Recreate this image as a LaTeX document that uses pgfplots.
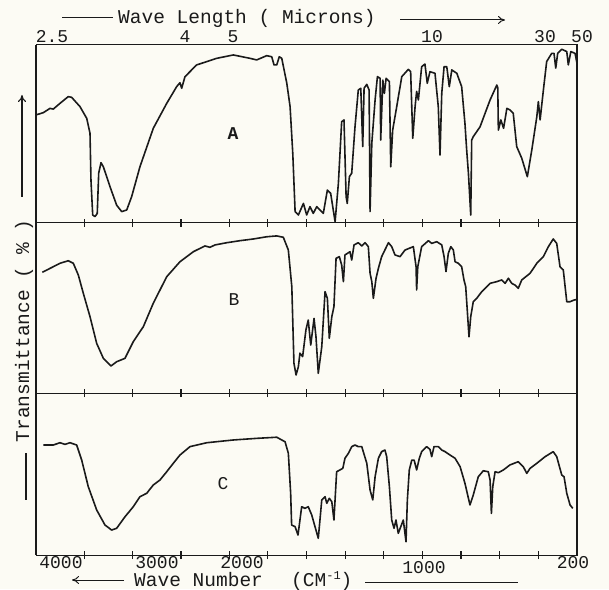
\documentclass[border=0pt]{standalone}
\usepackage{pgfplots}
\pgfplotsset{compat=1.18}
\usepackage{pgfplotstable}
\usepackage{fontspec}
\setmainfont{Liberation Mono}
\usetikzlibrary{arrows.meta}
\definecolor{paper}{HTML}{FCFBF4}
\definecolor{ink}{HTML}{1A1A1A}

% wave number (cm^-1) against transmittance, each panel
\pgfplotstableread{
nu t
4000 60.7
3924 62
3855 64.4
3821 64
3752 67.2
3666 71
3631 70.6
3545 65.4
3475 58.8
3441 50.4
3431 24
3413 4.5
3389 3.6
3366 5.4
3351 28
3327 33.9
3303 31.6
3234 20.4
3165 10
3113 6.4
3061 7.3
3010 14.8
2924 31.6
2786 53.2
2647 67.2
2544 76.6
2510 78.8
2492 75.7
2458 82.2
2337 88.8
2130 92.5
1979 94.4
1892 92.5
1858 91.6
1806 94
1780 93.4
1768 88.8
1754 88.8
1741 93.4
1728 92.5
1702 78.5
1685 65.4
1671 39
1659 6.4
1642 4.5
1616 11
1599 4.5
1582 9.2
1565 5.4
1547 9.2
1530 7.3
1513 5.4
1492 18.5
1475 16.7
1452 0.7
1435 22.3
1418 56.9
1406 57.9
1395 14.8
1389 11
1378 26
1366 28
1349 54
1332 74.7
1319 75.7
1309 42.9
1302 75.7
1288 77.9
1276 74.7
1271 6.4
1262 44.8
1245 69.1
1233 82.2
1219 81.3
1216 46.6
1205 80.3
1197 72.8
1188 81.3
1171 79.4
1164 31.6
1154 52.2
1133 65.4
1107 82.2
1073 86.3
1061 85
1050 47.6
1038 65.4
1030 73.9
1021 69.1
1004 87.8
987 89.3
975 78.5
961 85
935 84.1
918 65.4
909 38.2
900 72.8
888 87.8
874 87.8
861 76.6
848 86
822 84.1
797 76.6
780 56
771 41
762 28
750 4.5
745 46.6
737 48.5
702 54
650 69.1
615 77.5
610 76
607 52.2
594 57.9
580 53.2
563 64.4
547 63.5
530 61.6
512 42.9
486 36.4
457 26
434 41
408 59.7
400 68.2
391 57.9
374 74.7
357 90.7
331 95.3
319 95.3
310 87
300 95.3
279 97.6
253 96.3
245 88.8
232 96.3
210 95.3
200 89.7
}\dataA

\pgfplotstableread{
nu t
3935 71
3855 73.3
3752 76.3
3666 77.8
3614 76.3
3562 69.4
3510 58.6
3441 44.9
3372 29.2
3303 20.4
3224 15.9
3165 18.4
3079 20.4
2993 30.2
2889 39
2786 52.8
2647 68.4
2510 77.2
2372 83.1
2251 86.5
2199 85.7
2147 87.1
2026 88.4
1944 89.6
1875 90.6
1806 91.9
1754 92.4
1720 91.6
1694 84.1
1676 62.5
1665 17.5
1654 10.6
1642 15.5
1634 23.4
1620 21.4
1603 37.1
1591 42.9
1578 28.2
1561 43.9
1551 33.1
1539 11.6
1521 27.2
1504 59.6
1492 55.7
1482 32.2
1469 44.9
1458 50.8
1447 79.2
1430 80.2
1418 75.3
1409 65.5
1401 81.2
1375 83.1
1366 78.2
1354 87.1
1332 88.4
1314 86.5
1297 88.4
1280 86.1
1271 70.4
1262 65.5
1254 55.7
1240 67.5
1228 73.3
1211 80.2
1176 88.4
1159 86.1
1142 81.2
1116 80.2
1090 84.1
1047 86.1
1033 74.3
1030 60.6
1024 74.3
1004 86.1
969 89.6
952 88
926 89
900 87.1
888 80.2
878 71.4
866 82.2
853 86.1
840 84.1
831 77.2
814 76.3
797 74.3
785 66.5
776 62.5
768 48.8
759 33.1
750 44.9
737 53.7
719 55.7
693 59.6
650 64.5
615 65.5
590 66.5
572 64.5
555 67.5
538 64.5
521 63.5
504 61.6
486 66.5
443 70.4
408 76.3
374 80.2
348 86.1
323 90.6
305 88
288 74.3
271 72.4
253 53.7
236 53.7
215 54.7
200 55
}\dataB

\pgfplotstableread{
nu t
3924 67.9
3821 67.9
3752 69.3
3700 68.3
3648 69.3
3579 67.9
3527 58.6
3459 42.2
3372 27.8
3286 18.5
3217 15.4
3165 16.5
3079 23.6
2993 29.8
2924 36
2854 38.1
2786 43.2
2717 46.3
2647 51.4
2579 56.6
2510 61.7
2406 66.9
2233 69.3
1979 71
1858 72
1754 72.7
1711 69.9
1694 62.8
1682 38.1
1677 18.5
1659 17.5
1644 12.3
1625 29.8
1608 28.8
1591 29.8
1573 24.7
1556 17.5
1539 10.3
1521 34
1504 36
1495 31.9
1482 35
1469 32.9
1458 21.6
1444 51.4
1427 52.5
1412 53.5
1401 59.7
1383 62.8
1366 66.9
1349 67.9
1332 66.9
1314 66.9
1288 56.6
1271 40.1
1257 34
1245 48.3
1228 59.7
1211 63.8
1194 64.8
1185 60.7
1171 42.2
1159 21.6
1147 16.5
1137 21.6
1125 13.4
1112 17.5
1099 21.6
1085 8.2
1078 34
1068 52.5
1055 58.6
1043 58.6
1030 52.5
1016 59.7
1004 63.8
978 66.9
961 65.2
952 60.7
940 66.9
918 66.9
900 64.8
883 63.8
857 61.7
831 59.7
805 54.5
780 44.3
754 30.9
737 37
711 48.3
685 52
659 51.4
650 46.3
643 25.7
636 42.2
624 51.4
607 50.8
581 52.5
547 55.6
504 57.6
478 54.5
460 50.4
443 53.5
408 56.6
365 60.7
323 63.8
305 60.7
279 49.4
267 48.3
253 38.1
236 30.9
222 28.8
}\dataC

\pgfplotsset{
  irpanel/.style={
    scale only axis, width=541pt, anchor=south west,
    xmin=0, xmax=5600, ymin=0, ymax=100,
    ytick=\empty,
    % 3500 ... 2000 every 500, then 1800 ... 400 every 200 (grating change at 2000)
    xtick={500,1000,1500,2000,2400,2800,3200,3600,4000,4400,4800,5200},
    xticklabels={},
    xtick pos=bottom, tick align=center, major tick length=8pt,
    tick style={ink, line width=1.2pt},
    axis line style={ink, line width=1pt},
  },
  trace/.style={ink, line width=1.6pt, no marks, line join=round},
}
\newcommand{\lab}{\fontsize{19.5}{20}\selectfont}
\newcommand{\num}{\fontsize{18}{18}\selectfont}

\begin{document}
\begin{tikzpicture}[x=1pt,y=1pt]
\fill[paper] (0,0) rectangle (609,589);
\useasboundingbox (0,0) rectangle (609,589);

\begin{axis}[irpanel, height=178pt, at={(36pt,366pt)}]
  \addplot[trace] table[x expr={4000-\thisrow{nu}+max(0,2000-\thisrow{nu})}, y=t] {\dataA};
\end{axis}
\begin{axis}[irpanel, height=170pt, at={(36pt,196pt)}]
  \addplot[trace] table[x expr={4000-\thisrow{nu}+max(0,2000-\thisrow{nu})}, y=t] {\dataB};
\end{axis}
\begin{axis}[irpanel, height=162pt, at={(36pt,34pt)}]
  \addplot[trace] table[x expr={4000-\thisrow{nu}+max(0,2000-\thisrow{nu})}, y=t] {\dataC};
\end{axis}

% heavy side rules of the chart paper
\draw[ink, line width=2.2pt] (36,34) -- (36,544);
\draw[ink, line width=2pt] (577,34) -- (577,544);

% panel letters
\node[ink, font=\fontsize{18}{18}\selectfont\bfseries] at (233,455) {A};
\node[ink, font=\fontsize{18}{18}\selectfont] at (234,289) {B};
\node[ink, font=\fontsize{18}{18}\selectfont] at (223,105) {C};

% wavelength scale on top
\begin{scope}[ink, font=\num]
  \node[anchor=base, inner sep=0pt] at (52,546) {2.5};
  \node[anchor=base, inner sep=0pt] at (185,546) {4};
  \node[anchor=base, inner sep=0pt] at (233,546) {5};
  \node[anchor=base, inner sep=0pt] at (432,546) {10};
  \node[anchor=base, inner sep=0pt] at (545,546) {30};
  \node[anchor=base, inner sep=0pt] at (582,546) {50};
\end{scope}
\begin{scope}[ink, font=\lab]
  \node[anchor=base west, inner sep=0pt] at (118,565) {Wave Length ( Microns)};
  \draw[line width=1pt] (62,571) -- (113,571);
  \draw[line width=1pt, -{To[length=7pt,width=8pt]}] (400,569) -- (505,569);
\end{scope}

% wave number scale at the bottom
\begin{scope}[ink, font=\num]
  \node[anchor=base] at (61,21) {4000};
  \node[anchor=base] at (157,21) {3000};
  \node[anchor=base] at (242,21) {2000};
  \node[anchor=base] at (424,16) {1000};
  \node[anchor=base] at (573,21) {200};
\end{scope}
\begin{scope}[ink, font=\lab]
  \node[anchor=base west, inner sep=0pt] at (134,3) {Wave Number};
  \node[anchor=base west, inner sep=0pt] at (291,3) {(CM\raisebox{7pt}{\fontsize{12}{12}\selectfont -1})};
  \draw[line width=1pt, -{To[length=7pt,width=8pt]}] (124,9) -- (72,9);
  \draw[line width=1pt] (365,7) -- (518,7);
\end{scope}

% ordinate title
\node[ink, font=\lab, rotate=90] at (24,258) {Transmittance ( \% )};
\draw[ink, line width=1.1pt, -{To[length=7pt,width=8pt]}] (22,392) -- (22,494);
\draw[ink, line width=1.1pt] (26,136) -- (26,89);
\end{tikzpicture}
\end{document}
